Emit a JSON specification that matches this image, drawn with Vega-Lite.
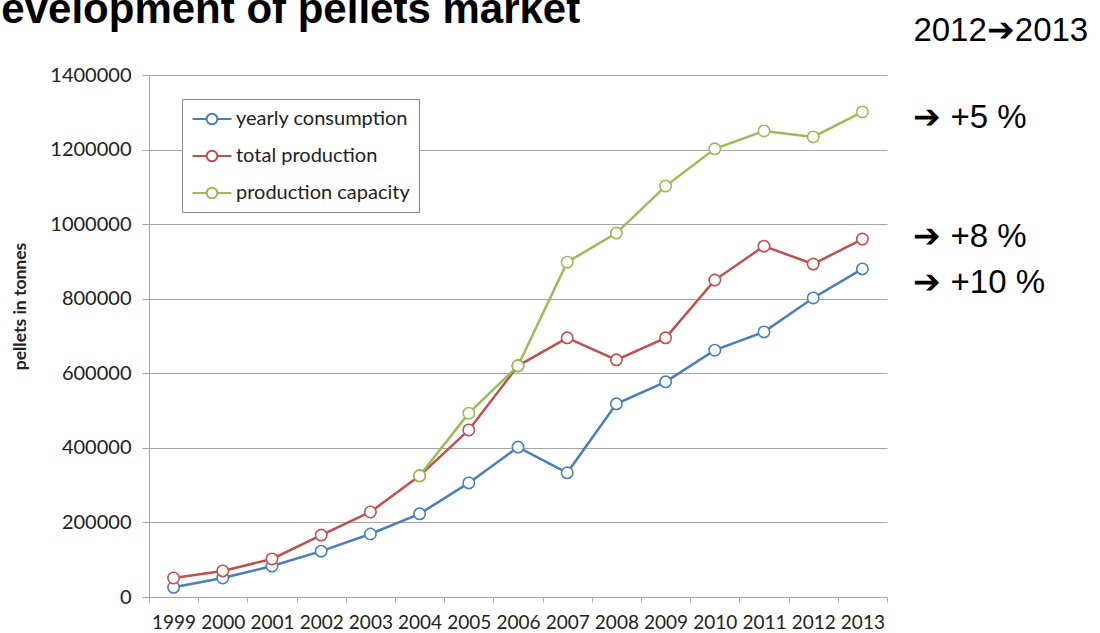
{
  "$schema": "https://vega.github.io/schema/vega-lite/v6.json",
  "width": 738,
  "height": 522,
  "autosize": {"type": "none"},
  "padding": {"left": 149, "top": 75, "right": 213, "bottom": 36},
  "background": "white",
  "title": {
    "text": "Development of pellets market",
    "anchor": "start",
    "frame": "group",
    "font": "Liberation Sans",
    "fontSize": 42,
    "fontWeight": "bold",
    "color": "black",
    "baseline": "alphabetic",
    "offset": 0,
    "dy": 50,
    "dx": -178
  },
  "datasets": {
    "series": [
      {"year": "1999", "series": "yearly consumption", "value": 26000},
      {"year": "2000", "series": "yearly consumption", "value": 51000},
      {"year": "2001", "series": "yearly consumption", "value": 83000},
      {"year": "2002", "series": "yearly consumption", "value": 123000},
      {"year": "2003", "series": "yearly consumption", "value": 169000},
      {"year": "2004", "series": "yearly consumption", "value": 223000},
      {"year": "2005", "series": "yearly consumption", "value": 306000},
      {"year": "2006", "series": "yearly consumption", "value": 402000},
      {"year": "2007", "series": "yearly consumption", "value": 333000},
      {"year": "2008", "series": "yearly consumption", "value": 518000},
      {"year": "2009", "series": "yearly consumption", "value": 577000},
      {"year": "2010", "series": "yearly consumption", "value": 662000},
      {"year": "2011", "series": "yearly consumption", "value": 711000},
      {"year": "2012", "series": "yearly consumption", "value": 802000},
      {"year": "2013", "series": "yearly consumption", "value": 880000},
      {"year": "1999", "series": "total production", "value": 51000},
      {"year": "2000", "series": "total production", "value": 70000},
      {"year": "2001", "series": "total production", "value": 102000},
      {"year": "2002", "series": "total production", "value": 166000},
      {"year": "2003", "series": "total production", "value": 228000},
      {"year": "2004", "series": "total production", "value": 325000},
      {"year": "2005", "series": "total production", "value": 448000},
      {"year": "2006", "series": "total production", "value": 620000},
      {"year": "2007", "series": "total production", "value": 695000},
      {"year": "2008", "series": "total production", "value": 636000},
      {"year": "2009", "series": "total production", "value": 695000},
      {"year": "2010", "series": "total production", "value": 850000},
      {"year": "2011", "series": "total production", "value": 941000},
      {"year": "2012", "series": "total production", "value": 893000},
      {"year": "2013", "series": "total production", "value": 960000},
      {"year": "2004", "series": "production capacity", "value": 325000},
      {"year": "2005", "series": "production capacity", "value": 493000},
      {"year": "2006", "series": "production capacity", "value": 620000},
      {"year": "2007", "series": "production capacity", "value": 898000},
      {"year": "2008", "series": "production capacity", "value": 976000},
      {"year": "2009", "series": "production capacity", "value": 1102000},
      {"year": "2010", "series": "production capacity", "value": 1202000},
      {"year": "2011", "series": "production capacity", "value": 1250000},
      {"year": "2012", "series": "production capacity", "value": 1234000},
      {"year": "2013", "series": "production capacity", "value": 1301000}
    ],
    "notes": [
      {"year": "2013", "note": "2012➔2013", "value": 1518000},
      {"year": "2013", "note": "➔ +5 %", "value": 1285000},
      {"year": "2013", "note": "➔ +8 %", "value": 965000},
      {"year": "2013", "note": "➔ +10 %", "value": 842000}
    ]
  },
  "encoding": {
    "x": {
      "field": "year",
      "type": "ordinal",
      "scale": {"type": "band", "paddingInner": 0, "paddingOuter": 0, "domain": ["1999","2000","2001","2002","2003","2004","2005","2006","2007","2008","2009","2010","2011","2012","2013"]},
      "axis": {
        "title": null,
        "labelAngle": 0,
        "tickBand": "extent",
        "domainColor": "#A6A6A6",
        "tickColor": "#A6A6A6",
        "tickSize": 5,
        "labelFont": "Lato",
        "labelFontSize": 19,
        "labelColor": "#222222",
        "labelPadding": 11,
        "grid": false
      }
    },
    "y": {
      "field": "value",
      "type": "quantitative",
      "scale": {"domain": [0, 1400000], "nice": false},
      "axis": {
        "title": "pellets in tonnes",
        "titleFont": "Lato",
        "titleFontSize": 17.5,
        "titleFontWeight": "bold",
        "titleColor": "#222222",
        "titleAngle": -90,
        "titleAlign": "center",
        "titleBaseline": "middle",
        "titleX": -129,
        "titleY": 231,
        "values": [0, 200000, 400000, 600000, 800000, 1000000, 1200000, 1400000],
        "format": "d",
        "labelFont": "Lato",
        "labelFontSize": 20,
        "labelColor": "#222222",
        "labelPadding": 11,
        "tickSize": 7,
        "tickColor": "#A6A6A6",
        "domainColor": "#A6A6A6",
        "grid": true,
        "gridColor": "#A6A6A6",
        "gridWidth": 1
      }
    }
  },
  "layer": [
    {
      "data": {"name": "series"},
      "mark": {"type": "line", "strokeWidth": 2.5},
      "encoding": {
        "color": {
          "field": "series",
          "type": "nominal",
          "scale": {
            "domain": ["yearly consumption", "total production", "production capacity"],
            "range": ["#4A7EBB", "#C0504D", "#9BBB59"]
          },
          "legend": {
            "title": null,
            "orient": "none",
            "legendX": 33,
            "legendY": 24,
            "direction": "vertical",
            "strokeColor": "#888888",
            "fillColor": "white",
            "padding": 9,
            "rowPadding": 16,
            "symbolType": "M-2,0H-0.55M0.55,0H2M-0.55,0A0.55,0.55 0 1,0 0.55,0A0.55,0.55 0 1,0 -0.55,0Z",
            "symbolSize": 380,
            "symbolStrokeWidth": 2,
            "symbolFillColor": "white",
            "symbolOffset": 10,
            "labelOffset": 13,
            "labelFont": "Lato",
            "labelFontSize": 20,
            "labelColor": "#222222",
            "labelLimit": 300
          }
        },
        "detail": {"field": "series"}
      }
    },
    {
      "data": {"name": "series"},
      "mark": {"type": "point", "shape": "circle", "filled": false, "fill": "white", "fillOpacity": 1, "size": 130, "strokeWidth": 1.6, "opacity": 1},
      "encoding": {
        "color": {"field": "series", "type": "nominal", "legend": null}
      }
    },
    {
      "data": {"name": "notes"},
      "mark": {"type": "text", "align": "left", "baseline": "middle", "dx": 51, "font": "Liberation Sans", "fontSize": 33, "color": "black"},
      "encoding": {
        "text": {"field": "note"}
      }
    }
  ],
  "config": {"view": {"stroke": null}}
}
